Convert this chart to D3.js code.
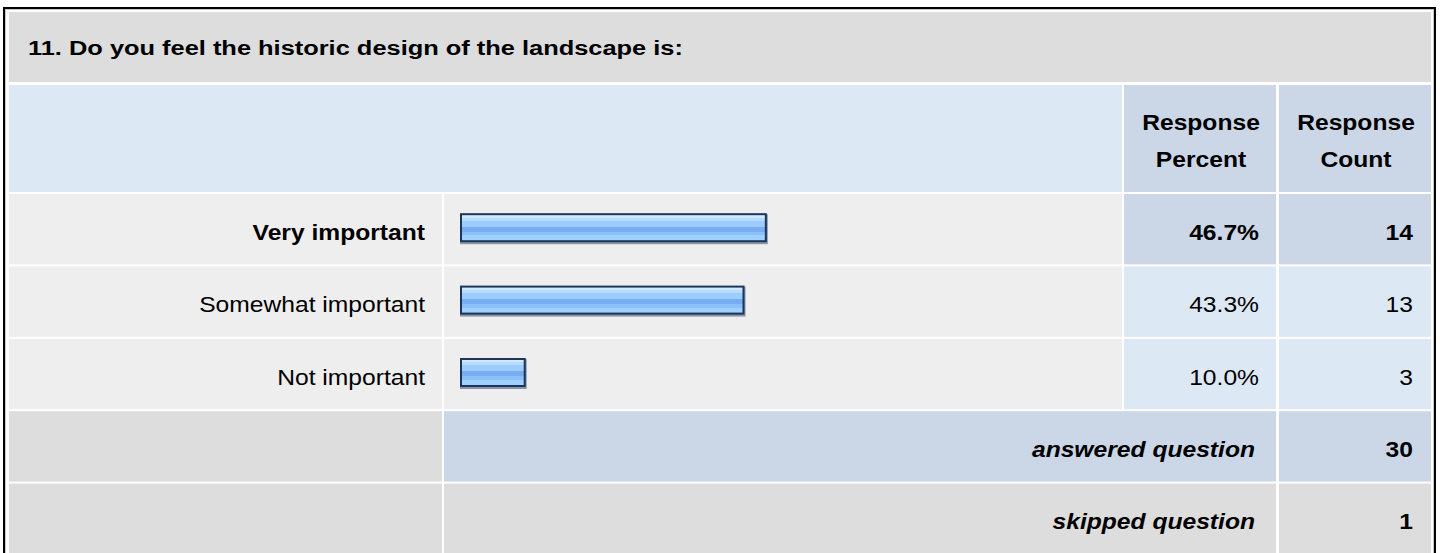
<!DOCTYPE html>
<html>
<head>
<meta charset="utf-8">
<script src="https://cdn.jsdelivr.net/npm/d3@7"></script>
<style>
  html, body { margin: 0; padding: 0; background: #fff; }
  svg { display: block; }
  text { font-family: "Liberation Sans", Arial, Helvetica, sans-serif; fill: #000; }
</style>
</head>
<body>
<svg id="chart" width="1440" height="553"></svg>
<script>
// ---- data ----
const questionTitle = "11. Do you feel the historic design of the landscape is:";
const categories = ["Very important", "Somewhat important", "Not important"];
const percents = [46.7, 43.3, 10.0];
const counts = [14, 13, 3];
const headerLabels = [["Response", "Percent"], ["Response", "Count"]];
const summaryLabels = ["answered question", "skipped question"];
const summaryValues = [30, 1];

// ---- layout ----
const W = 1440, H = 553;
const svg = d3.select("#chart");
const cols = {
  label: [9, 442],
  bar: [444, 1122],
  pct: [1124, 1276],
  cnt: [1279, 1431]
};
const titleRow = [12, 82];
const headerRow = [85, 192];
const rowStep = 72, rowH = 70, firstRowY = 194;
const rowNames = categories.concat(summaryLabels);
const yRow = d3.scaleBand().domain(d3.range(rowNames.length))
  .range([firstRowY, firstRowY + rowStep * rowNames.length]).paddingInner(2 / rowStep).paddingOuter(0);

const C = {
  gray: "#dddddd",
  light: "#eeeeee",
  blue: "#dde8f5",
  blueDark: "#cbd7e6"
};
const SX = 1.12, FS = 22;

function cell(x0, x1, y0, y1, fill) {
  svg.append("rect").attr("x", x0).attr("y", y0).attr("width", x1 - x0).attr("height", y1 - y0).attr("fill", fill);
}
function txt(x, y, s, opts = {}) {
  const g = svg.append("g").attr("transform", `translate(${x},${y}) scale(${opts.sx || SX},1)`);
  g.append("text").attr("x", 0).attr("y", 0)
    .attr("text-anchor", opts.anchor || "end")
    .attr("font-size", opts.fs || FS)
    .attr("font-weight", opts.bold ? "bold" : "normal")
    .attr("font-style", opts.italic ? "italic" : "normal")
    .text(s);
}

// outer frame
svg.append("rect").attr("x", 0).attr("y", 0).attr("width", W).attr("height", H).attr("fill", "#fff");
svg.append("rect").attr("x", 5.5).attr("y", 9.5).attr("width", 1428).attr("height", 600)
  .attr("fill", "none").attr("stroke", "#c8c8c8").attr("stroke-width", 1);
svg.append("rect").attr("x", 4).attr("y", 8).attr("width", 1431).attr("height", 600)
  .attr("fill", "none").attr("stroke", "#000").attr("stroke-width", 2);

// title row
cell(cols.label[0], cols.cnt[1], titleRow[0], titleRow[1], C.gray);
txt(28, 55, questionTitle, { anchor: "start", bold: true, fs: 20, sx: 1.27 });

// header row
cell(cols.label[0], cols.bar[1], headerRow[0], headerRow[1], C.blue);
cell(cols.pct[0], cols.pct[1], headerRow[0], headerRow[1], C.blueDark);
cell(cols.cnt[0], cols.cnt[1], headerRow[0], headerRow[1], C.blueDark);
[cols.pct, cols.cnt].forEach((c, i) => {
  const cx = (c[0] + c[1]) / 2 + 1;
  txt(cx, 130, headerLabels[i][0], { anchor: "middle", bold: true });
  txt(cx, 167, headerLabels[i][1], { anchor: "middle", bold: true });
});

// gradient for bars
const defs = svg.append("defs");
const grad = defs.append("linearGradient").attr("id", "barGrad")
  .attr("x1", 0).attr("y1", 0).attr("x2", 0).attr("y2", 1);
[
  [0, "#d2eaff"], [0.1, "#d2eaff"], [0.1, "#b6dcff"], [0.22, "#b6dcff"],
  [0.22, "#9dcdfe"], [0.46, "#9dcdfe"], [0.46, "#78aef0"], [0.66, "#78aef0"],
  [0.66, "#8cc0f8"], [0.8, "#8cc0f8"], [0.8, "#9fd0ff"], [1, "#9fd0ff"]
].forEach(([o, c]) => grad.append("stop").attr("offset", o).attr("stop-color", c));

const maxIdx = d3.maxIndex(percents);
const x = d3.scaleLinear().domain([0, 100]).range([460, 460 + 657]);

// answer rows
categories.forEach((cat, i) => {
  const y0 = yRow(i), y1 = y0 + yRow.bandwidth();
  const cy = (y0 + y1) / 2;
  const strong = i === maxIdx;
  cell(cols.label[0], cols.label[1], y0, y1, C.light);
  cell(cols.bar[0], cols.bar[1], y0, y1, C.light);
  cell(cols.pct[0], cols.pct[1], y0, y1, strong ? C.blueDark : C.blue);
  cell(cols.cnt[0], cols.cnt[1], y0, y1, strong ? C.blueDark : C.blue);

  txt(cols.label[1] - 17, cy + 10.5, cat, { bold: strong });

  const bx = x(0), bw = x(percents[i]) - x(0), by = cy - 16, bh = 29;
  svg.append("rect").attr("x", bx).attr("y", by + 1).attr("width", bw + 1).attr("height", bh + 1).attr("fill", "#8796a8");
  svg.append("rect").attr("x", bx).attr("y", by).attr("width", bw).attr("height", bh).attr("fill", "#1c355b");
  svg.append("rect").attr("x", bx + 2).attr("y", by + 2).attr("width", bw - 4).attr("height", bh - 4).attr("fill", "url(#barGrad)");

  txt(cols.pct[1] - 17, cy + 10.5, percents[i].toFixed(1) + "%", { bold: strong });
  txt(cols.cnt[1] - 18, cy + 10.5, String(counts[i]), { bold: strong });
});

// summary rows
summaryLabels.forEach((lab, j) => {
  const i = categories.length + j;
  const y0 = yRow(i), y1 = y0 + yRow.bandwidth();
  const cy = (y0 + y1) / 2;
  const midFill = j === 0 ? C.blueDark : C.gray;
  cell(cols.label[0], cols.label[1], y0, y1, C.gray);
  cell(cols.bar[0], cols.pct[1], y0, y1, midFill);
  cell(cols.cnt[0], cols.cnt[1], y0, y1, midFill);
  txt(cols.pct[1] - 21, cy + 10.5, lab, { bold: true, italic: true });
  txt(cols.cnt[1] - 18, cy + 10.5, String(summaryValues[j]), { bold: true });
});
</script>
</body>
</html>
